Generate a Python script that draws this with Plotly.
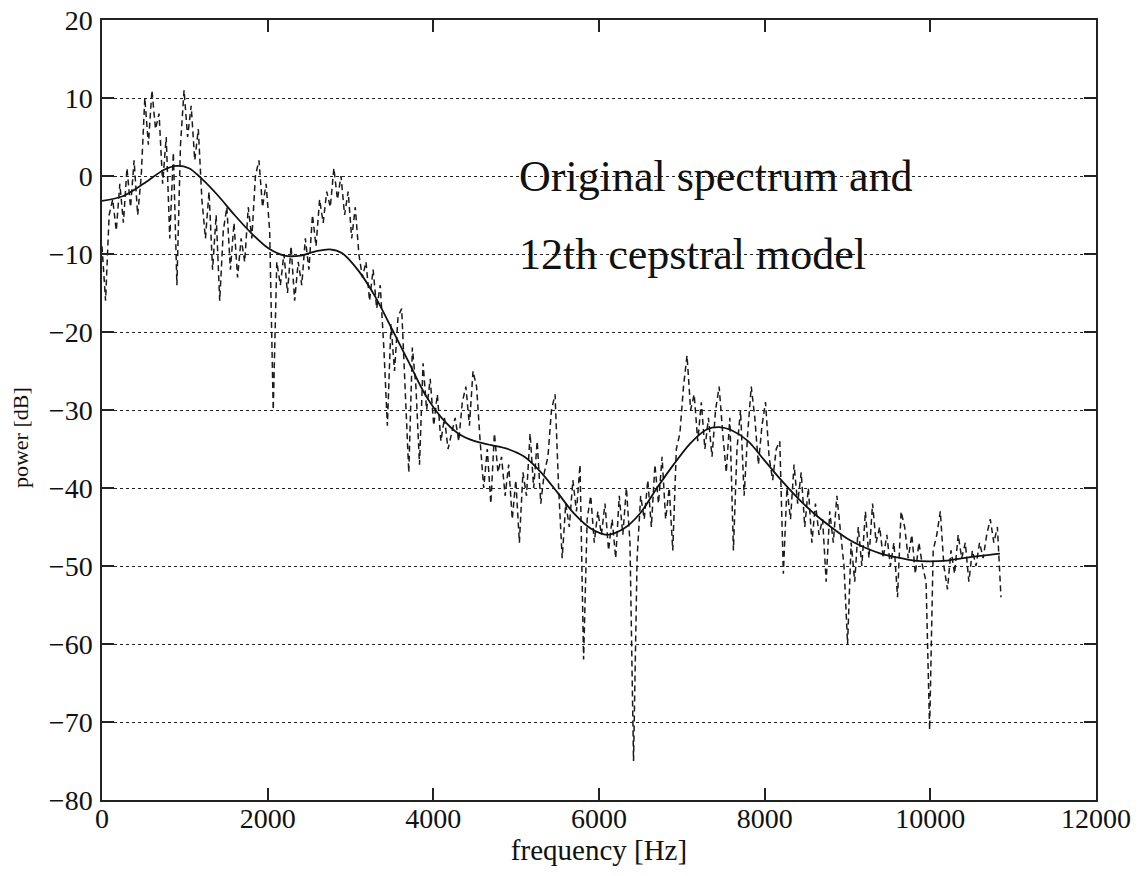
import plotly.graph_objects as go

# FFT bin spacing of the analysed frame (22.05 kHz sampling, 512-point FFT)
fs = 22050
nfft = 512
df = fs / nfft

# Original power spectrum in dB, one value per FFT bin from 0 Hz
spectrum_db = [
    -9, -16, -5, -3, -7, -1, -6, 1, -4, 2, -5, 0,
    10, 4, 11, 6, 8, -1, 5, -8, 3, -14, 4, 11,
    5, 9, 2, 6, -3, -8, -2, -12, -5, -16, -7,
    -4, -12, -6, -13, -8, -11, -4, -8, 0, 2, -4, -1,
    -7, -30, -11, -14, -10, -15, -9, -16, -11, -14, -8, -12,
    -5, -9, -3, -6, -2, -4, 1, -3, 0, -5, -2,
    -8, -4, -10, -13, -11, -16, -12, -17, -14, -22, -32, -19,
    -25, -18, -17, -28, -38, -22, -27, -37, -24, -30, -26,
    -32, -28, -34, -31, -35, -33, -31, -34, -29, -27, -32, -25,
    -27, -34, -40, -35, -42, -33, -38, -36, -41, -37, -44, -39,
    -47, -38, -41, -33, -40, -34, -42, -38, -36, -30, -28,
    -40, -49, -42, -45, -39, -43, -37, -62, -44, -41, -47, -43,
    -46, -42, -48, -44, -49, -41, -46, -40, -47, -75, -49,
    -41, -44, -39, -45, -37, -42, -36, -44, -40, -48, -35, -33,
    -27, -23, -30, -28, -34, -29, -35, -31, -36, -30, -27, -33,
    -38, -31, -48, -35, -30, -41, -33, -27, -31, -37, -32,
    -29, -36, -39, -35, -34, -51, -40, -44, -37, -42, -38, -45,
    -40, -47, -42, -46, -44, -52, -43, -47, -41, -46, -50,
    -60, -47, -52, -45, -50, -43, -49, -42, -47, -45, -49, -46,
    -50, -47, -54, -43, -45, -49, -46, -51, -47, -50, -52, -71,
    -48, -46, -43, -50, -53, -48, -51, -46, -49, -47, -52,
    -48, -50, -47, -49, -46, -44, -47, -45, -54,
]
spectrum_hz = [k * df for k in range(len(spectrum_db))]

# 12th-order cepstral envelope
model_hz = [0, 250, 500, 750, 900, 1050, 1200, 1400, 1600, 1800, 2000, 2200,
            2400, 2600, 2750, 2900, 3100, 3300, 3500, 3700, 3900, 4100, 4300,
            4500, 4700, 4900, 5100, 5300, 5500, 5700, 5900, 6100, 6300, 6500,
            6700, 6900, 7100, 7300, 7450, 7600, 7800, 8000, 8200, 8400, 8600,
            8800, 9000, 9200, 9400, 9600, 9800, 10000, 10200, 10400, 10600,
            10840]
model_db = [-3.2, -2.6, -1.0, 0.8, 1.3, 1.0, -0.3, -2.5, -5.0, -7.3, -9.2,
            -10.2, -10.2, -9.6, -9.4, -9.9, -12.2, -15.5, -19.6, -23.8, -28.0,
            -31.0, -33.0, -34.0, -34.5, -35.0, -36.0, -38.0, -40.6, -43.3,
            -45.2, -46.0, -45.2, -43.2, -40.0, -37.0, -34.3, -32.5, -32.2,
            -32.6, -34.0, -36.5, -39.0, -41.3, -43.3, -45.0, -46.5, -47.6,
            -48.4, -48.9, -49.3, -49.4, -49.3, -49.0, -48.7, -48.4]

x_ticks = [0, 2000, 4000, 6000, 8000, 10000, 12000]
y_ticks = [20, 10, 0, -10, -20, -30, -40, -50, -60, -70, -80]

caption_lines = ["Original spectrum and", "12th cepstral model"]
caption_y = [0, -10]

serif = "Liberation Serif, Times New Roman, serif"
ink = "#111111"

fig = go.Figure()
fig.add_trace(go.Scatter(
    x=spectrum_hz, y=spectrum_db, mode="lines",
    line=dict(color="#1a1a1a", width=1.5, dash="6px,4px"),
    showlegend=False,
))
fig.add_trace(go.Scatter(
    x=model_hz, y=model_db, mode="lines",
    line=dict(color=ink, width=1.8, shape="spline", smoothing=0.8),
    showlegend=False,
))

for txt, yv in zip(caption_lines, caption_y):
    fig.add_annotation(
        x=5010, y=yv, xref="x", yref="y", text=txt, showarrow=False,
        xanchor="left", yanchor="middle",
        font=dict(family=serif, size=44, color=ink),
    )

# vertical axis title, set slightly below the plot centre
fig.add_annotation(
    x=20, y=0.464, xref="paper", yref="paper", text="power [dB]",
    showarrow=False, textangle=-90, xanchor="center", yanchor="middle",
    font=dict(family=serif, size=22, color=ink),
)
fig.update_annotations(selector=dict(text="power [dB]"),
                       x=(20 - 102) / 994)

axis_common = dict(
    showline=True, linecolor="#222222", linewidth=1.5, mirror="ticks",
    ticks="inside", ticklen=12, tickwidth=1.5, tickcolor="#222222",
    zeroline=False, automargin=False,
    tickfont=dict(family=serif, size=28, color=ink),
)

fig.update_xaxes(
    range=[0, 12000], tickvals=x_ticks, ticktext=[str(v) for v in x_ticks],
    showgrid=False, ticklabelstandoff=-7,
    title=dict(text="frequency [Hz]", font=dict(family=serif, size=29, color=ink),
               standoff=0),
    **axis_common,
)
fig.update_yaxes(
    range=[-80, 20], tickvals=y_ticks, ticklabelstandoff=2,
    showgrid=True, gridcolor="#222222", gridwidth=1.2, griddash="3px,3px",
    **axis_common,
)

fig.update_layout(
    width=1142, height=876,
    margin=dict(l=102, r=46, t=20, b=76),
    paper_bgcolor="white", plot_bgcolor="white",
)

fig.write_html("out.html")
